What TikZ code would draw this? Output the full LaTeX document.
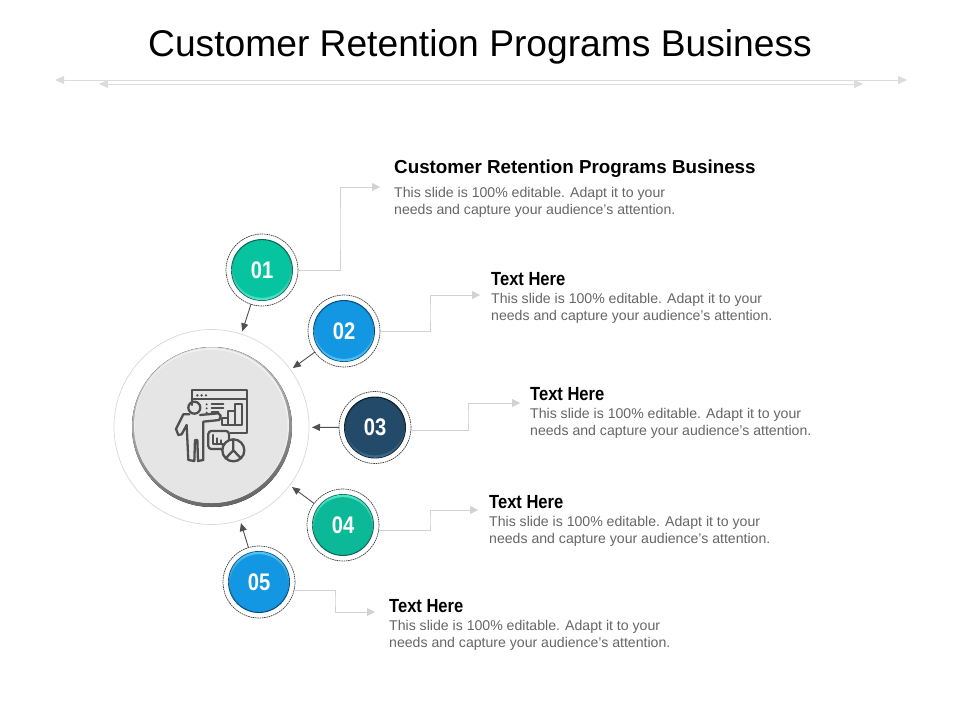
\documentclass[tikz,border=0pt]{standalone}
\usepackage{fontspec}
\usepackage{graphicx}
\setmainfont{Liberation Sans}
\usetikzlibrary{arrows.meta}
\definecolor{txtgray}{HTML}{666666}
\definecolor{icongray}{HTML}{505050}
\definecolor{linegray}{HTML}{D2D2D2}
\definecolor{rulegray}{HTML}{DCDCDC}
\definecolor{tealdark}{HTML}{0A7F68}
\definecolor{teallight}{HTML}{4FE6C9}
\definecolor{tealface}{HTML}{07C4A0}
\definecolor{tealfaceb}{HTML}{0BB897}
\definecolor{bluedark}{HTML}{0A5F98}
\definecolor{bluelight}{HTML}{4FC4F8}
\definecolor{blueface}{HTML}{1397E2}
\definecolor{navydark}{HTML}{0F2535}
\definecolor{navylight}{HTML}{3B6A8C}
\definecolor{navyface}{HTML}{234A68}
\newcommand{\btnface}[5]{% node, dark, light, face, direction
  \fill[#2] (#1) circle (31);
  \ifnum#5>0
    \fill[top color=#2,middle color=#2,bottom color=#3] (#1) circle (30.3);
  \else
    \fill[top color=#3,middle color=#2,bottom color=#2] (#1) circle (30.3);
  \fi
  \fill[#4] (#1) ++(0,-#5) circle (28.8);
}
\tikzset{
  x=1pt,y=-1pt,
  halo/.style={circle,minimum size=72pt,inner sep=0pt,outer sep=0pt,draw=black!75,line width=0.7pt,dash pattern=on 1.6pt off 0.7pt,fill=white},
  num/.style={text=white,font=\fontsize{24}{24}\selectfont\bfseries,inner sep=0pt},
  elbow/.style={draw=linegray,line width=0.9pt,-{Triangle[length=8pt,width=8pt,fill=linegray]}},
  radial/.style={draw=icongray,line width=0.9pt,-{Triangle[length=8pt,width=7pt,fill=icongray]},shorten >=3pt},
  rule/.style={draw=rulegray,line width=0.8pt,{Triangle[length=9pt,width=8pt,fill=rulegray]}-{Triangle[length=9pt,width=8pt,fill=rulegray]}},
  heading/.style={anchor=west,inner sep=0pt,font=\fontsize{18.8}{19}\selectfont\bfseries},
  narrowh/.style={anchor=west,inner sep=0pt,font=\fontsize{19}{19}\selectfont\bfseries},
  body/.style={anchor=north west,align=left,inner sep=0pt,text=txtgray,font=\fontsize{14.1}{17}\selectfont},
  icon/.style={draw=icongray,line width=2.3pt,line join=round,line cap=round},
}
\newcommand{\bodytext}{This slide is 100\% editable. Adapt it to your\\needs and capture your audience's attention.}
\newcommand{\narrowhead}{\scalebox{0.87}[1]{Text Here}}
\newcommand{\digits}[1]{\scalebox{0.84}[1]{#1}}
\begin{document}
\begin{tikzpicture}
\useasboundingbox (0,0) rectangle (960,720);
\fill[white] (0,0) rectangle (960,720);
% title
\node[inner sep=0pt,font=\fontsize{37.2}{38}\selectfont] (title) at (480,47) {Customer Retention Programs Business};
\coordinate (r1a) at (55,80); \coordinate (r1b) at (907,80);
\coordinate (r2a) at (99,84); \coordinate (r2b) at (863,84);
\draw[rule] (r1a) -- (r1b);
\draw[rule] (r2a) -- (r2b);
% central
\node[circle,minimum size=195pt,inner sep=0pt,outer sep=0pt,draw=black!15,line width=0.7pt] (ring) at (211.5,427) {};
\node[circle,minimum size=160pt,inner sep=0pt,outer sep=0pt] (hub) at (212,427) {};
\fill[top color=black!18,bottom color=black!60,shading angle=15] (hub) circle (80);
\fill[white!94!black] (hub) ++(-0.5,-1.5) circle (77.5);
\fill[black!10] (hub) ++(-1,-0.5) circle (76.5);
% icon
\begin{scope}[shift={(160,375)},x=0.3333pt,y=-0.3333pt]
 \draw[icon] (95,90) -- (95,45) -- (260,45) -- (260,175) -- (207,175);
 \draw[icon] (95,72) -- (260,72);
 \foreach \q in {112,125,138} \fill[icongray] (\q,61) circle (4);
 \foreach \q in {88,100,113} \fill[icongray] (140,\q) circle (3.4);
 \draw[icon] (155,88) -- (190,88) (155,100) -- (190,100) (155,112) -- (175,112);
 \draw[icon] (103,98) circle (18);
 \draw[icon] (88,118) -- (70,118) -- (48,162) -- (55,180) -- (65,178) -- (80,150) -- (85,255) -- (103,258) -- (105,195) -- (112,195) -- (114,258) -- (130,255) -- (130,140) -- (178,135) -- (182,122) -- (175,115) -- (120,120);
 \draw[icon] (187,150) rectangle (205,128) (205,150) rectangle (225,108) (225,150) rectangle (245,88);
 \fill[black!10] (143,166) rectangle (209,224);
 \draw[icon,rounded corners=3pt] (145,168) rectangle (207,222);
 \draw[icon] (160,180) -- (160,208) -- (195,208) (172,208) -- (172,190) (183,208) -- (183,196);
 \fill[black!10] (220,226) circle (35);
 \draw[icon] (220,226) circle (33);
 \draw[icon] (220,193) -- (220,226) -- (197,250) (220,226) -- (243,250);
\end{scope}
% numbered circles
\node[halo] (c1) at (262,270) {};
\node[halo] (c2) at (344,331) {};
\node[halo] (c3) at (375,427.5) {};
\node[halo] (c4) at (343,525) {};
\node[halo] (c5) at (259,582) {};
\btnface{c1}{tealdark}{teallight}{tealface}{1}
\btnface{c2}{bluedark}{bluelight}{blueface}{1}
\btnface{c3}{navydark}{navylight}{navyface}{1}
\btnface{c4}{tealdark}{teallight}{tealfaceb}{-1}
\btnface{c5}{bluedark}{bluelight}{blueface}{-1}
\node[num] (n1) at (c1) {\digits{01}};
\node[num] (n2) at (c2) {\digits{02}};
\node[num] (n3) at (c3) {\digits{03}};
\node[num] (n4) at (c4) {\digits{04}};
\node[num] (n5) at (c5) {\digits{05}};
% radial arrows
\draw[radial] (c1) -- (ring);
\draw[radial] (c2) -- (ring);
\draw[radial] (c3) -- (ring);
\draw[radial] (c4) -- (ring);
\draw[radial] (c5) -- (ring);
% text
\node[heading] (h1) at (394,169) {Customer Retention Programs Business};
\node[body] (b1) at (394,187) {\bodytext};
\node[narrowh] (h2) at (491,279) {\narrowhead};
\node[body] (b2) at (491,293) {\bodytext};
\node[narrowh] (h3) at (530,394) {\narrowhead};
\node[body] (b3) at (530,408) {\bodytext};
\node[narrowh] (h4) at (489,502) {\narrowhead};
\node[body] (b4) at (489,516) {\bodytext};
\node[narrowh] (h5) at (389,606) {\narrowhead};
\node[body] (b5) at (389,620) {\bodytext};
% elbow connectors
\coordinate (k1) at (340,229); \coordinate (e1) at (380,187);
\coordinate (k2) at (430,313); \coordinate (e2) at (480,295);
\coordinate (k3) at (468,416); \coordinate (e3) at (520,403);
\coordinate (k4) at (430,520); \coordinate (e4) at (478,510);
\coordinate (k5) at (335,600); \coordinate (e5) at (375,612);
\draw[elbow] (c1.east) -| (k1) |- (e1);
\draw[elbow] (c2.east) -| (k2) |- (e2);
\draw[elbow] (c3.-4) -| (k3) |- (e3);
\draw[elbow] (c4.-8) -| (k4) |- (e4);
\draw[elbow] (c5.-14.5) -| (k5) |- (e5);
\end{tikzpicture}
\end{document}
